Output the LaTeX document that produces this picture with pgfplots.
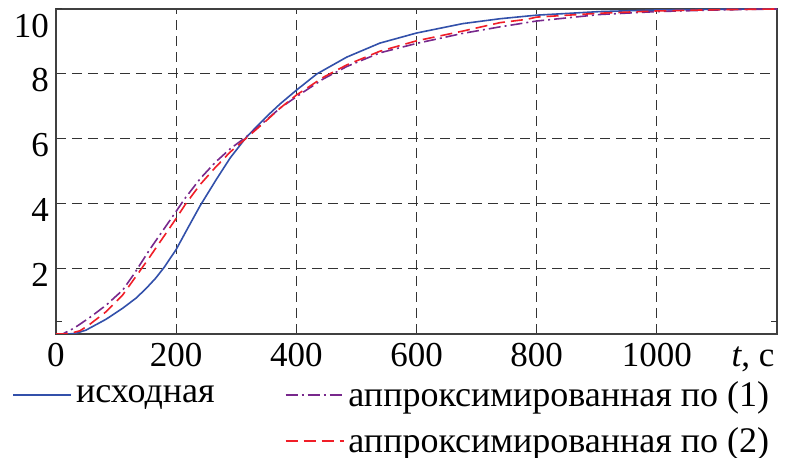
\documentclass[border=0pt]{standalone}
\usepackage{pgfplots}
\pgfplotsset{compat=1.18}
\usepackage{fontspec}
\setmainfont{Liberation Serif}
\setsansfont{Liberation Serif}
\definecolor{cblue}{RGB}{50,80,170}
\definecolor{cpurple}{RGB}{120,40,140}
\definecolor{cred}{RGB}{240,30,40}
\begin{document}
\begin{tikzpicture}
\useasboundingbox (-28pt,-62pt) rectangle (369pt,167pt);
\begin{axis}[
  scale only axis, width=360.5pt, height=162.5pt,
  xmin=0, xmax=1200, ymin=0, ymax=10,
  xtick={0,200,...,1000}, ytick={2,4,6,8},
  major tick length=0pt,
  extra y ticks={0.37,10}, extra y tick labels={,10},
  extra y tick style={grid=none, major tick length=3pt, tick align=inside,
    tick style={black!80, line width=0.5pt},
    yticklabel style={yshift=-5.5pt}},
  grid=major,
  major grid style={black!80, line width=0.5pt, dash pattern=on 5pt off 3pt},
  axis line style={black!75, line width=0.6pt},
  tick label style={font=\rmfamily\fontsize{17.5}{20}\selectfont},
  yticklabel style={yshift=-3pt},
  xticklabel style={anchor=base, yshift=-16.5pt},
  xlabel={\textit{t}, с},
  xlabel style={at={(rel axis cs:0.9667,0)}, anchor=base, yshift=-16.5pt,
    font=\rmfamily\fontsize{17.5}{20}\selectfont, inner sep=0pt},
  /pgf/number format/assume math mode=true,
  /pgf/number format/1000 sep={},
  legend columns=2,
  legend cell align=left,
  legend image code/.code={\draw[#1] (0pt,0pt) -- (29pt,0pt);},
  legend style={at={(axis cs:0,0)}, anchor=north west, xshift=-22pt, yshift=-21.5pt,
    draw=none, fill=white, inner sep=0pt, row sep=5pt,
    font=\rmfamily\fontsize{18}{22}\selectfont,
    /tikz/every even column/.append style={column sep=33pt}},
]
\addplot[draw=cblue, line width=0.8pt, forget plot] coordinates {
(0,0) (20,0) (33,0.02) (50,0.12) (83,0.45) (110,0.78) (133,1.1) (150,1.4) (166,1.72)
(180,2.05) (200,2.6) (220,3.28) (240,3.95) (267,4.76) (290,5.42) (317,6.06) (351,6.7)
(373,7.08) (400,7.5) (434,8.0) (484,8.52) (539,8.95) (600,9.26) (677,9.55) (739,9.7)
(783,9.78) (800,9.81) (905,9.92) (1000,9.97) (1100,9.99) (1200,10.0)};
\addplot[draw=cpurple, line width=0.8pt, dash pattern=on 6pt off 2pt on 1pt off 2pt, forget plot] coordinates {
(0,0) (11,0) (30,0.18) (55,0.49) (83,0.88) (111,1.35) (130,1.85) (156,2.6) (198,3.72)
(215,4.18) (240,4.78) (265,5.28) (290,5.7) (317,6.07) (351,6.6) (373,6.95) (400,7.3)
(445,7.85) (484,8.23) (539,8.65) (600,8.94) (677,9.25) (739,9.45) (783,9.58) (800,9.63)
(905,9.83) (1000,9.92) (1100,9.97) (1200,10.0)};
\addplot[draw=cred, line width=0.8pt, dash pattern=on 6pt off 3pt, forget plot] coordinates {
(0,0) (20,0) (40,0.1) (55,0.28) (83,0.68) (111,1.2) (140,1.95) (156,2.37) (198,3.5)
(215,3.98) (240,4.6) (265,5.12) (290,5.6) (317,6.03) (351,6.58) (373,6.95) (400,7.35)
(445,7.9) (484,8.28) (539,8.7) (600,9.02) (677,9.32) (739,9.58) (783,9.68) (800,9.75)
(905,9.87) (1000,9.94) (1100,9.98) (1200,10.0)};
\addlegendimage{draw=cblue, line width=0.9pt}
\addlegendentry{исходная}
\addlegendimage{draw=cpurple, line width=0.9pt, dash pattern=on 6pt off 2pt on 1pt off 2pt}
\addlegendentry{аппроксимированная по (1)}
\addlegendimage{empty legend}
\addlegendentry{}
\addlegendimage{draw=cred, line width=0.9pt, dash pattern=on 6pt off 3pt}
\addlegendentry{аппроксимированная по (2)}
\end{axis}
\end{tikzpicture}
\end{document}
